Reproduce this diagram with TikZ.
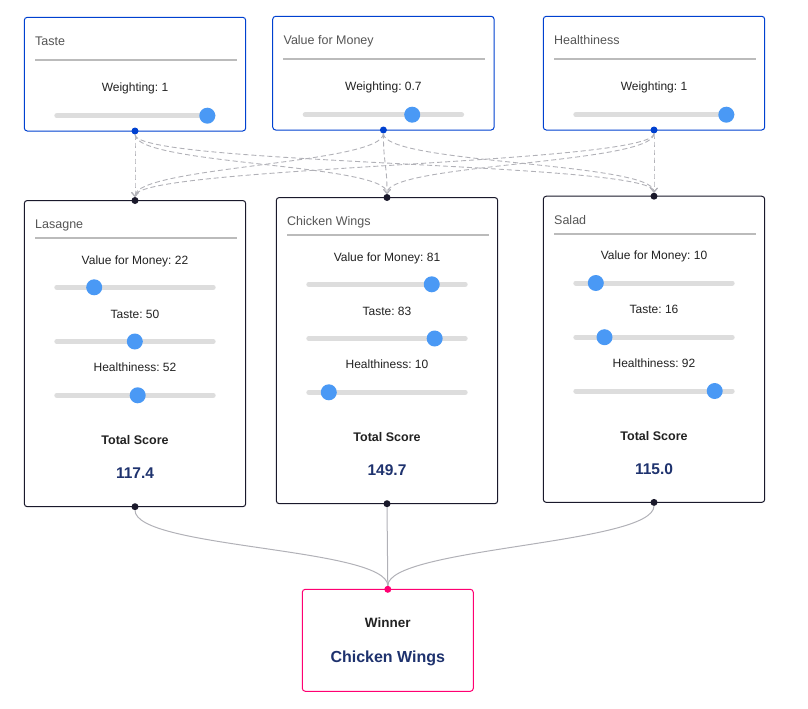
\documentclass[tikz,border=0pt]{standalone}
\usepackage{fontspec}
\setmainfont{Liberation Sans}
\usetikzlibrary{arrows.meta}
\frenchspacing
\definecolor{inblue}{RGB}{0,65,208}
\definecolor{outpink}{RGB}{255,0,114}
\definecolor{nodeborder}{RGB}{26,25,43}
\definecolor{edgegray}{RGB}{177,177,183}
\definecolor{trackgray}{RGB}{221,221,221}
\definecolor{thumbblue}{RGB}{74,153,245}
\definecolor{titlegray}{RGB}{85,85,85}
\definecolor{sepgray}{RGB}{187,187,187}
\definecolor{bodytext}{RGB}{34,34,34}
\definecolor{scoreblue}{RGB}{30,50,110}

\newcommand\mkslider[4]{% x1, x2, y, value(0-100)
  \draw[track] ({#1+2.5},#3) -- ({#2-2.5},#3);
  \fill[thumbblue] ({#1+8+#4*1.45},#3) circle (8pt);
}
\newcommand\weightcard[6]{% name, x, y, title, weight text, value
  \begin{scope}[shift={(#2,#3)}]
    \node[weightbox] (#1) at (0,0) {};
    \node[cardtitle] (#1-title) at (10.7,28.7) {#4};
    \draw[sep] (10.7,42.7) -- (212.7,42.7);
    \node[cardlabel] (#1-label) at (110.7,74.2) {Weighting: #5};
    \mkslider{30}{191.4}{98.4}{#6}
  \end{scope}
}
\newcommand\foodcard[8]{% name, x, y, title, vfm, taste, health, score
  \begin{scope}[shift={(#2,#3)}]
    \node[foodbox] (#1) at (0,0) {};
    \node[cardtitle] (#1-title) at (10.7,28) {#4};
    \draw[sep] (10.7,37.5) -- (212.7,37.5);
    \node[cardlabel] (#1-l1) at (110.7,63.5) {Value for Money: #5};
    \mkslider{30}{191.4}{86.8}{#5}
    \node[cardlabel] (#1-l2) at (110.7,117.5) {Taste: #6};
    \mkslider{30}{191.4}{141}{#6}
    \node[cardlabel] (#1-l3) at (110.7,171.2) {Healthiness: #7};
    \mkslider{30}{191.4}{194.8}{#7}
    \node[totallabel] (#1-total) at (110.7,243.8) {Total Score};
    \node[scorelabel] (#1-score) at (110.7,277.8) {#8};
  \end{scope}
}

\begin{document}
\begin{tikzpicture}[x=1pt,y=-1pt,
  track/.style={draw=trackgray, line width=5pt, line cap=round},
  box/.style={draw, line width=1pt, rounded corners=3pt, fill=white, anchor=north west, inner sep=0pt, outer sep=0pt},
  weightbox/.style={box, draw=inblue, minimum width=221.4pt, minimum height=113.7pt},
  foodbox/.style={box, draw=nodeborder, minimum width=221.4pt, minimum height=306.2pt},
  winbox/.style={box, draw=outpink, minimum width=171pt, minimum height=102pt},
  handle/.style={circle, inner sep=0pt, outer sep=0pt, minimum size=7pt},
  cardtitle/.style={anchor=base west, inner sep=0pt, text=titlegray, font=\fontsize{12.5}{14}\selectfont},
  cardlabel/.style={anchor=base, inner sep=0pt, text=bodytext, font=\fontsize{12}{14}\selectfont},
  totallabel/.style={anchor=base, inner sep=0pt, text=bodytext, font=\bfseries\fontsize{12.5}{14}\selectfont},
  scorelabel/.style={anchor=base, inner sep=0pt, text=scoreblue, font=\bfseries\fontsize{15.5}{18}\selectfont},
  winlabel/.style={anchor=base, inner sep=0pt, text=bodytext, font=\bfseries\fontsize{13.5}{16}\selectfont},
  winscore/.style={anchor=base, inner sep=0pt, text=scoreblue, font=\bfseries\fontsize{16}{19}\selectfont},
  sep/.style={draw=sepgray, line width=2pt},
  dashedge/.style={draw=edgegray, line width=0.9pt, dash pattern=on 5pt off 3pt, -{Straight Barb[length=4pt,width=7pt]}},
  solidedge/.style={draw=edgegray, line width=1pt},
]
\useasboundingbox (0,0) rectangle (808,709);

% weighting cards
\weightcard{wtaste}{24.3}{17.3}{Taste}{1}{100}
\weightcard{wvfm}{272.7}{16.3}{Value for Money}{0.7}{70}
\weightcard{wheal}{543.3}{16.3}{Healthiness}{1}{100}

% food cards
\foodcard{lasagne}{24.3}{200.5}{Lasagne}{22}{50}{52}{117.4}
\foodcard{chicken}{276.3}{197.5}{Chicken Wings}{81}{83}{10}{149.7}
\foodcard{salad}{543.3}{196.2}{Salad}{10}{16}{92}{115.0}

% winner card
\node[winbox] (winner) at (302.3,589.3) {};
\node[winlabel] (winner-label) at (winner.center |- 0,627.7) {Winner};
\node[winscore] (winner-name) at (winner.center |- 0,662) {Chicken Wings};

% handles
\foreach \s in {wtaste,wvfm,wheal}
  \node[handle, fill=inblue] (\s-out) at (\s.south) {};
\foreach \t in {lasagne,chicken,salad}{
  \node[handle, fill=nodeborder] (\t-in) at (\t.north) {};
  \node[handle, fill=nodeborder] (\t-out) at (\t.south) {};
}
\node[handle, fill=outpink] (winner-in) at (winner.north) {};

% dashed weighting connectors
\foreach \s in {wtaste,wvfm,wheal}
  \foreach \t in {lasagne,chicken,salad}
    \draw[dashedge] (\s-out) .. controls +(0,34) and +(0,-34) .. (\t-in);

% solid connectors to winner
\foreach \t in {lasagne,chicken,salad}
  \draw[solidedge] (\t-out) .. controls +(0,42) and +(0,-42) .. (winner-in);
\end{tikzpicture}
\end{document}
